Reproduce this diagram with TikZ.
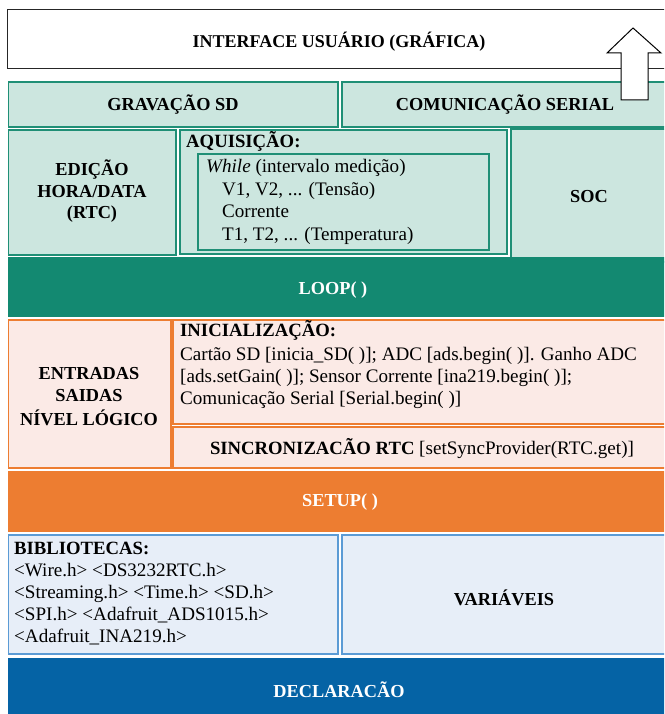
\documentclass[tikz,border=0pt]{standalone}
\usepackage{fontspec}
\setmainfont{Liberation Serif}
\definecolor{tealfill}{HTML}{CCE6DF}
\definecolor{tealline}{HTML}{1F8F76}
\definecolor{loopteal}{HTML}{138971}
\definecolor{orgfill}{HTML}{FBEAE6}
\definecolor{orgline}{HTML}{ED7D31}
\definecolor{bluefill}{HTML}{E7EEF8}
\definecolor{blueline}{HTML}{5B9BD5}
\definecolor{declblue}{HTML}{0563A5}
\tikzset{
  tealbox/.style={fill=tealfill, draw=tealline, line width=1.2pt},
  orgbox/.style={fill=orgfill, draw=orgline, line width=1.2pt},
  bluebox/.style={fill=bluefill, draw=blueline, line width=1.2pt},
  ttl/.style={font=\bfseries\fontsize{18.3}{22}\selectfont, inner sep=0pt},
  wttl/.style={ttl, text=white},
  txt/.style={font=\fontsize{19.1}{22}\selectfont, inner sep=0pt, anchor=base west},
  btxt/.style={txt, font=\bfseries\fontsize{18.7}{22}\selectfont},
}
\begin{document}
\begin{tikzpicture}[x=1pt,y=-1pt]
\useasboundingbox (0,0) rectangle (664,714);
\clip (0,0) rectangle (664,714);
\fill[white] (0,0) rectangle (664,714);

% graphical user interface
\draw[black!85, line width=1pt, fill=white] (7,9.5) rectangle (670,69);
\node[ttl, font=\bfseries\fontsize{18}{22}\selectfont] (gui) at (339,42) {INTERFACE USUÁRIO (GRÁFICA)};

% loop: storage and serial output
\path[tealbox] (8.5,82) rectangle (338,127);
\node[ttl] (sd) at (173,105) {GRAVAÇÃO SD};
\path[tealbox] (342,82) rectangle (670,127);
\node[ttl] (serial) at (505,105) {COMUNICAÇÃO SERIAL};

% loop: RTC, acquisition, SOC
\path[tealbox] (8.5,130) rectangle (176,255);
\node[ttl] (ed1) at (92,170) {EDIÇÃO};
\node[ttl] (ed2) at (92,192) {HORA/DATA};
\node[ttl] (ed3) at (92,214) {(RTC)};

\path[tealbox] (180,130) rectangle (507,254);
\node[btxt] (acq) at (186,148) {AQUISIÇÃO:};
\path[draw=tealline, line width=1.2pt] (198,154) rectangle (489,250);
\node[txt] (acq1) at (206,173) {\textit{While} (intervalo medição)};
\node[txt] (acq2) at (222,195) {V1, V2, ... (Tensão)};
\node[txt] (acq3) at (222,217) {Corrente};
\node[txt] (acq4) at (222,240) {T1, T2, ... (Temperatura)};

\path[tealbox] (511,129) rectangle (670,262);
\node[ttl] (soc) at (589,197) {SOC};

\fill[loopteal] (8,257) rectangle (670,317);
\node[wttl] (loop) at (333,290) {LOOP( )};

% setup
\path[orgbox] (8.5,320) rectangle (171,468);
\node[ttl] (io1) at (89,374) {ENTRADAS};
\node[ttl] (io2) at (89,396) {SAIDAS};
\node[ttl] (io3) at (89,418) {NÍVEL LÓGICO};

\path[orgbox] (173,320) rectangle (670,424);
\node[btxt] (ini) at (180,336) {INICIALIZAÇÃO:};
\node[txt] (ini1) at (180,360) {Cartão SD [inicia\_SD( )]; ADC [ads.begin( )]. Ganho ADC};
\node[txt] (ini2) at (180,382) {[ads.setGain( )]; Sensor Corrente [ina219.begin( )];};
\node[txt] (ini3) at (180,404) {Comunicação Serial [Serial.begin( )]};

\path[orgbox] (173,427) rectangle (670,468);
\node[ttl, font=\bfseries\fontsize{18.7}{22}\selectfont] (sync) at (422,449) {SINCRONIZACÃO RTC \mdseries\fontsize{19.1}{22}\selectfont[setSyncProvider(RTC.get)]};

\fill[orgline] (8,471) rectangle (670,532);
\node[wttl] (setup) at (340,502) {SETUP( )};

% declarations
\path[bluebox] (8.5,535) rectangle (338,654);
\node[btxt] (lib) at (14,554) {BIBLIOTECAS:};
\node[txt] (lib1) at (14,576) {<Wire.h> <DS3232RTC.h>};
\node[txt] (lib2) at (14,598) {<Streaming.h> <Time.h> <SD.h>};
\node[txt] (lib3) at (14,620) {<SPI.h> <Adafruit\_ADS1015.h>};
\node[txt] (lib4) at (14,642) {<Adafruit\_INA219.h>};

\path[bluebox] (342,535) rectangle (670,654);
\node[ttl] (var) at (504,598) {VARIÁVEIS};

\fill[declblue] (8,658) rectangle (670,720);
\node[wttl] (decl) at (339,690) {DECLARACÃO};

% upward arrow towards the interface
\draw[black, line width=1pt, fill=white, line join=miter]
  (633,28) -- (661,53) -- (648,53) -- (648,100) -- (621,100) -- (621,53) -- (607,53) -- cycle;
\end{tikzpicture}
\end{document}
